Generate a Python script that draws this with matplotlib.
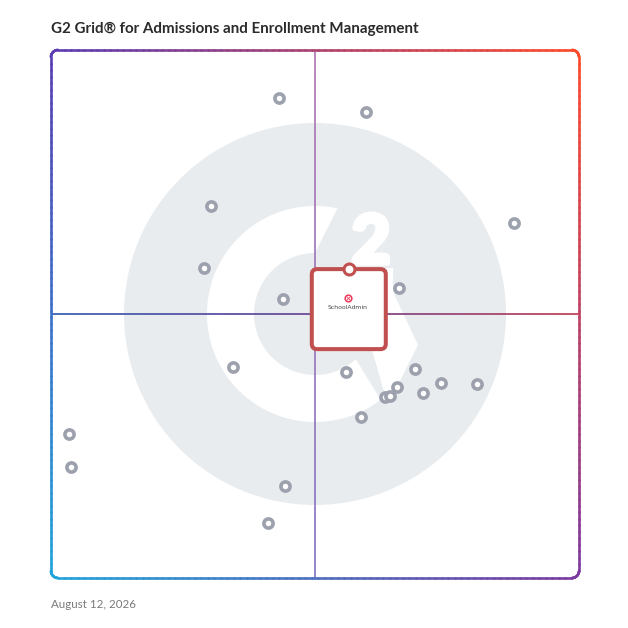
import numpy as np
import matplotlib
matplotlib.use("Agg")
import matplotlib.pyplot as plt
import matplotlib.patheffects as pe
from matplotlib.collections import LineCollection
from matplotlib.patches import Circle, Polygon, FancyBboxPatch
from matplotlib.colors import to_rgb

# ---------------- data ----------------
title = "G2 Grid\u00ae for Admissions and Enrollment Management"
date_label = "August 12, 2026"
products_x = [43.2, 59.7, 30.3, 87.7, 29.0, 65.9, 43.9, 51.5, 34.5, 55.9, 68.9,
              65.5, 63.3, 64.2, 70.5, 73.9, 80.7, 58.7, 3.4, 3.8, 44.3, 41.1]
products_y = [90.9, 88.3, 70.5, 67.2, 58.7, 54.9, 52.8, 44.7, 40.0, 39.0, 39.6,
              36.2, 34.3, 34.5, 35.0, 36.9, 36.7, 30.5, 27.3, 21.0, 17.4, 10.4]
highlight_name = "SchoolAdmin"
highlight_x = [56.4]
highlight_y = [58.5]

# ---------------- figure ----------------
W = 628
fig = plt.figure(figsize=(6.28, 6.28), dpi=100)
fig.patch.set_facecolor("white")
ax = fig.add_axes([51 / W, 50 / W, 528 / W, 528 / W])
ax.set_xlim(0, 100)
ax.set_ylim(0, 100)
ax.axis("off")

S = 5.28  # pixels per data unit


def P(px, py):
    return ((px - 51) / S, (578 - py) / S)


# ---- watermark (G2 logo) ----
cx, cy = 50, 50
wm = "#e9ecef"
ax.add_patch(Circle((cx, cy), 191 / S, facecolor=wm, edgecolor="none", zorder=0))
r_out, r_in = 108 / S, 61 / S
a_out = np.linspace(np.deg2rad(78), np.deg2rad(360 - 52.5), 200)
a_in = np.linspace(np.deg2rad(360 - 48), np.deg2rad(90), 200)
arc_pts = np.vstack([
    np.column_stack([cx + r_out * np.cos(a_out), cy + r_out * np.sin(a_out)]),
    np.column_stack([cx + r_in * np.cos(a_in), cy + r_in * np.sin(a_in)]),
])
ax.add_patch(Polygon(arc_pts, closed=True, facecolor="white", edgecolor="none", zorder=1))
chev = [P(318, 268), P(393, 268), P(393, 292), P(418, 345), P(388, 405),
        P(367, 333), P(353, 307), P(318, 307)]
ax.add_patch(Polygon(chev, closed=True, facecolor="white", edgecolor="none", zorder=1))
ax.text(*P(371, 244), "2", fontsize=48, fontweight="bold", color="white",
        ha="center", va="center", family="Lato", zorder=1,
        path_effects=[pe.withStroke(linewidth=4, foreground="white")])


# ---- gradient helpers ----
def lerp(c1, c2, t):
    c1, c2 = np.array(to_rgb(c1)), np.array(to_rgb(c2))
    return c1 + (c2 - c1) * t


TL, TR, BL, BR = "#5a3cb4", "#ff4a2a", "#1fa4dc", "#7c3aa0"


def bilinear(u, v):
    top = lerp(TL, TR, u)
    bot = lerp(BL, BR, u)
    return bot + (top - bot) * v


# quadrant lines
n = 200
ys = np.linspace(0, 100, n)
segs = [[(50, ys[i]), (50, ys[i + 1])] for i in range(n - 1)]
cols = [lerp("#8a7cc6", "#b47fb4", (ys[i] + ys[i + 1]) / 200) for i in range(n - 1)]
ax.add_collection(LineCollection(segs, colors=cols, linewidths=1.3, zorder=2))
xs = np.linspace(0, 100, n)
segs = [[(xs[i], 50), (xs[i + 1], 50)] for i in range(n - 1)]
cols = []
for i in range(n - 1):
    t = (xs[i] + xs[i + 1]) / 200
    cols.append(lerp("#3c62b4", "#6e4a98", t * 2) if t < 0.5 else lerp("#6e4a98", "#c2455a", (t - 0.5) * 2))
ax.add_collection(LineCollection(segs, colors=cols, linewidths=1.3, zorder=2))

# rounded border with gradient
r = 7 / S
path = []
def arc(xc, yc, a0, a1):
    for a in np.linspace(np.deg2rad(a0), np.deg2rad(a1), 20):
        path.append((xc + r * np.cos(a), yc + r * np.sin(a)))
def line(p0, p1):
    for t in np.linspace(0, 1, 80):
        path.append((p0[0] + (p1[0] - p0[0]) * t, p0[1] + (p1[1] - p0[1]) * t))
line((r, 0), (100 - r, 0))
arc(100 - r, r, -90, 0)
line((100, r), (100, 100 - r))
arc(100 - r, 100 - r, 0, 90)
line((100 - r, 100), (r, 100))
arc(r, 100 - r, 90, 180)
line((0, 100 - r), (0, r))
arc(r, r, 180, 270)
path.append(path[0])
segs = [[path[i], path[i + 1]] for i in range(len(path) - 1)]
cols = [np.clip(bilinear((path[i][0] + path[i + 1][0]) / 200, (path[i][1] + path[i + 1][1]) / 200), 0, 1)
        for i in range(len(path) - 1)]
ax.add_collection(LineCollection(segs, colors=cols, linewidths=1.9, zorder=3,
                                 capstyle="round", clip_on=False))

# ---- product points ----
ax.plot(products_x, products_y, "o", ms=6.6, mfc="white", mec="#9ca1ad", mew=2.6,
        ls="none", zorder=4, clip_on=False)

# ---- highlighted product box ----
red = "#c0504f"
hx, hy = highlight_x[0], highlight_y[0]
bw, bh = 74 / S, 80 / S
ax.add_patch(FancyBboxPatch((hx - bw / 2, hy - bh), bw, bh,
                            boxstyle="round,pad=0,rounding_size=1.0",
                            facecolor="white", edgecolor=red, linewidth=2.9, zorder=5))
ax.plot([hx - 0.2], [hy - 29 / S], "o", ms=4.8, mfc="white", mec="#ee3b5a", mew=1.1, zorder=6)
ax.plot([hx - 0.2], [hy - 29 / S], "x", ms=2.2, mec="#ee3b5a", mew=0.6, zorder=6)
ax.text(hx - 0.3, hy - 38 / S, highlight_name, fontsize=4.4, color="#444444",
        ha="center", va="center", zorder=6)
ax.plot(highlight_x, highlight_y, "o", ms=7.9, mfc="white", mec=red, mew=2.2, zorder=7,
        clip_on=False)

# ---- texts ----
fig.text(51 / W, 1 - 29 / W, title, fontsize=10.9, fontweight="bold", color="#2b2b2b",
         ha="left", va="center", family="Lato")
fig.text(51 / W, 1 - 604 / W, date_label, fontsize=8.3, color="#7a7a7a",
         ha="left", va="center", family="Lato")

fig.savefig("out.png", dpi=100, facecolor="white")
